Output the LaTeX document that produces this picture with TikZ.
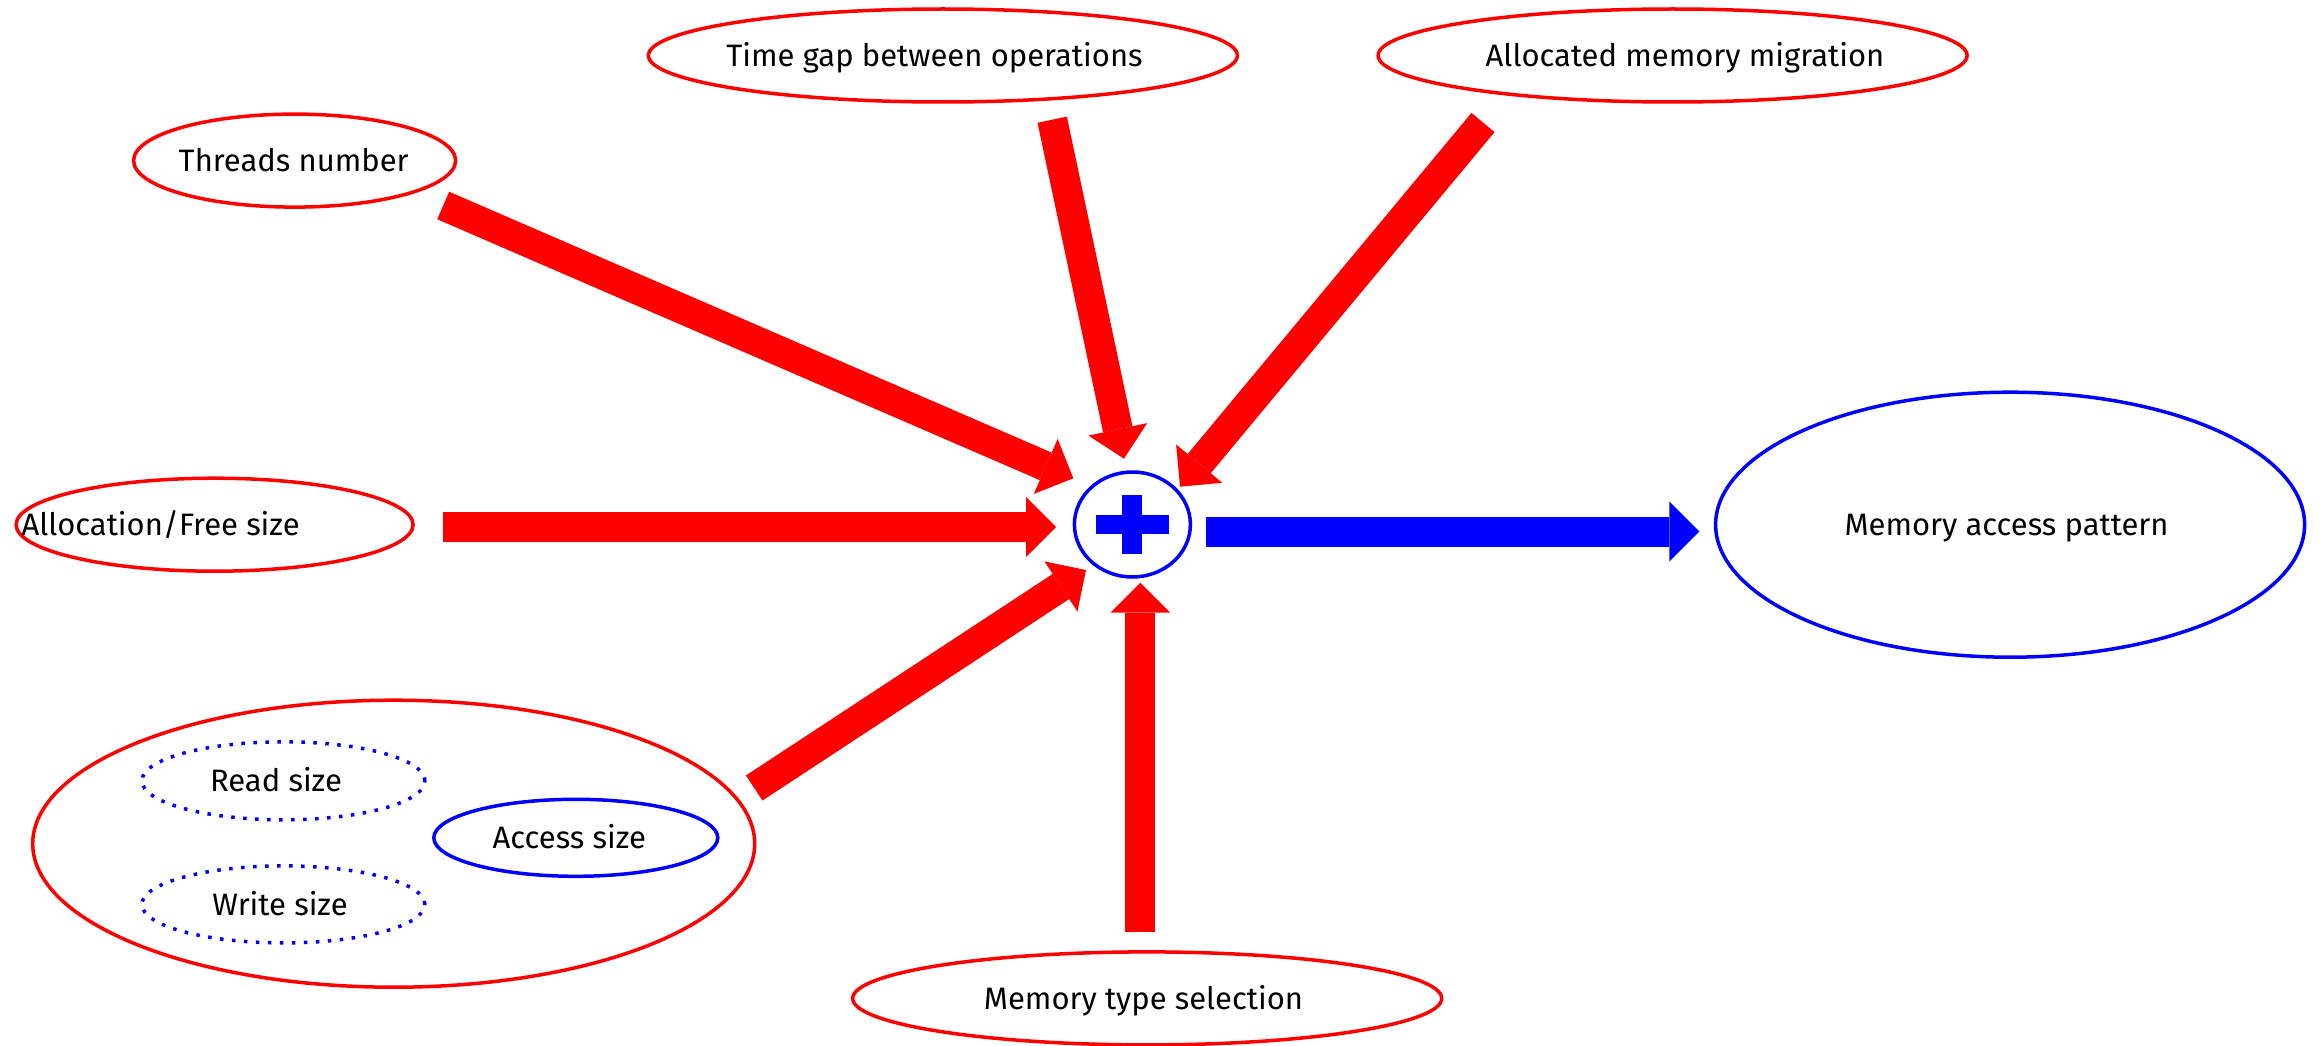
\documentclass[tikz,border=0pt]{standalone}
\usepackage{fontspec}
\setmainfont{Fira Sans}
\usetikzlibrary{shapes.geometric,arrows.meta}
\definecolor{pred}{RGB}{255,0,0}
\definecolor{pblue}{RGB}{0,0,255}
\begin{document}
\begin{tikzpicture}[x=1pt,y=-1pt,
  oval/.style={ellipse, draw=pred, line width=3.5pt, inner sep=0pt},
  blueoval/.style={ellipse, draw=pblue, line width=3.5pt, inner sep=0pt},
  dotoval/.style={ellipse, draw=pblue, line width=3.5pt, inner sep=0pt,
    dash pattern=on 3.5pt off 8.5pt},
  lbl/.style={font=\fontsize{31}{36}\selectfont, text height=21.5pt,
    text depth=0pt, inner sep=0pt, anchor=center},
  bigarrow/.style={pred, line width=30pt,
    -{Triangle[length=30pt,width=60pt,line width=0pt]}},
  outarrow/.style={pblue, line width=30pt,
    -{Triangle[length=30pt,width=60pt,line width=0pt]}},
]
\useasboundingbox (0,0) rectangle (2321,1046);

% input factors
\node[oval, minimum width=322, minimum height=93] (thr) at (294.6,160.6) {};
\node[lbl] (thrL) at (293.7,160.6) {Threads number};
\node[oval, minimum width=589, minimum height=93] (tg) at (942.9,55.5) {};
\node[lbl] (tgL) at (934.5,55.5) {Time gap between operations};
\node[oval, minimum width=589, minimum height=93] (mig) at (1672.6,55.5) {};
\node[lbl] (migL) at (1685,55.5) {Allocated memory migration};
\node[oval, minimum width=397, minimum height=93] (afs) at (214.6,524.7) {};
\node[lbl] (afsL) at (160.6,524.7) {Allocation/Free size};
\node[oval, minimum width=589, minimum height=93] (mts) at (1147.2,998.4) {};
\node[lbl] (mtsL) at (1143.5,998.4) {Memory type selection};

% access size group
\node[oval, minimum width=722, minimum height=287] (grp) at (393.7,843.7) {};
\node[dotoval, minimum width=283, minimum height=78] (rd) at (283.4,780.8) {};
\node[lbl] (rdL) at (276,780.8) {Read size};
\node[dotoval, minimum width=283, minimum height=77] (wr) at (283.4,904.4) {};
\node[lbl] (wrL) at (280,904.4) {Write size};
\node[blueoval, minimum width=284, minimum height=77] (acc) at (575.8,837.8) {};
\node[lbl] (accL) at (569.4,837.8) {Access size};

% combination and result
\node[blueoval, minimum width=116, minimum height=105] (plus) at (1132.4,524.5) {};
\fill[pblue] ([shift={(-36.3,-9.7)}]plus.center) rectangle +(72.6,19.4);
\fill[pblue] ([shift={(-10,-29.5)}]plus.center) rectangle +(20,59);
\node[blueoval, minimum width=589, minimum height=265] (map) at (2010.1,524.7) {};
\node[lbl] (mapL) at (2006.5,524.7) {Memory access pattern};

% arrow end points
\coordinate (thrT) at (443.2,205.5);  \coordinate (thrH) at (1073.3,478.3);
\coordinate (tgT)  at (1052.2,119.7); \coordinate (tgH)  at (1124,458.7);
\coordinate (migT) at (1483,122.5);   \coordinate (migH) at (1180,486.7);
\coordinate (afsT) at (443,527);      \coordinate (afsH) at (1056,527);
\coordinate (grpT) at (754.2,788);    \coordinate (grpH) at (1086,570);
\coordinate (mtsT) at (1140.3,932.3); \coordinate (mtsH) at (1140.3,582.7);
\coordinate (outT) at (1205.7,531.5); \coordinate (outH) at (1699.3,531.5);

\draw[bigarrow] (thrT) -- (thrH);
\draw[bigarrow] (tgT) -- (tgH);
\draw[bigarrow] (migT) -- (migH);
\draw[bigarrow] (afsT) -- (afsH);
\draw[bigarrow] (grpT) -- (grpH);
\draw[bigarrow] (mtsT) -- (mtsH);
\draw[outarrow] (outT) -- (outH);
\end{tikzpicture}
\end{document}
